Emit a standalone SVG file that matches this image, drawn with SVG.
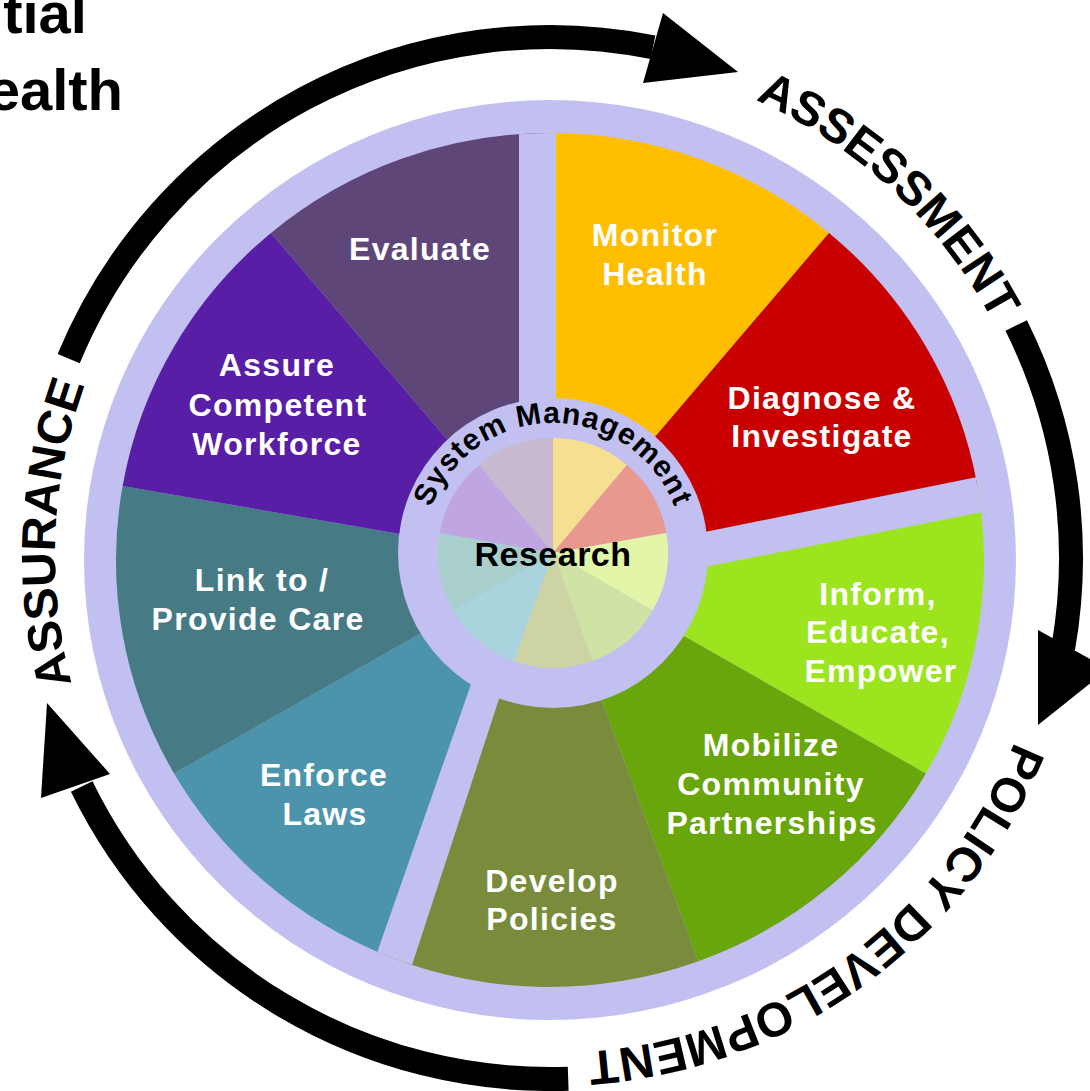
<svg xmlns="http://www.w3.org/2000/svg" width="1090" height="1091" viewBox="0 0 1090 1091">
<defs>
<style>
.lab{font-family:"Liberation Sans",Arial,sans-serif;font-weight:bold;font-size:32px;fill:#fff;text-anchor:middle;letter-spacing:1.3px}
.ring{font-family:"Liberation Sans",Arial,sans-serif;font-weight:bold;font-size:48px;fill:#000}
.title{font-family:"Liberation Sans",Arial,sans-serif;font-weight:bold;font-size:58px;fill:#000;text-anchor:end}
.shaft{fill:none;stroke:#000;stroke-width:24}
.head{fill:#000}
.lav{fill:#c1c0f1}
</style>
<path id="outerPath" d="M553 57 A498 498 0 0 1 553 1053 A498 498 0 0 1 553 57"/>
<path id="hubPath" d="M423 553 A130 130 0 0 1 683 553"/>
<clipPath id="wheelClip"><ellipse cx="550" cy="560" rx="434" ry="427"/></clipPath>
</defs>
<rect width="1090" height="1091" fill="#fff"/>

<g id="title">
<text class="title" x="87" y="33">tial</text>
<text class="title" x="123" y="110">ealth</text>
</g>

<g id="connectors">
<path class="shaft" d="M68.7 358.6 A521 521 0 0 1 653 47.3"/>
<polygon class="head" points="663,13 738,72 643,83"/>
<path class="shaft" d="M1016.2 325.5 A521 521 0 0 1 1063.1 648.5"/>
<polygon class="head" points="1038,630 1038,725 1108,669"/>
<path class="shaft" d="M568.2 1078.7 A521 521 0 0 1 81.7 786.4"/>
<polygon class="head" points="47,703 41,798 110,774"/>
</g>

<g id="phases">
<text id="assessment" class="ring"><textPath href="#outerPath" startOffset="373.7" text-anchor="middle">ASSESSMENT</textPath></text>
<text id="policy-development" class="ring"><textPath href="#outerPath" startOffset="1251.5" text-anchor="middle">POLICY DEVELOPMENT</textPath></text>
<text id="assurance" class="ring"><textPath href="#outerPath" startOffset="2368.4" text-anchor="middle">ASSURANCE</textPath></text>
</g>

<ellipse id="outer-ring" class="lav" cx="550" cy="560" rx="466" ry="460"/>

<g id="evaluate">
<path fill="#5e4778" d="M550 560 L271 232.9 A434 427 0 0 1 550 133 Z"/>
<text class="lab" x="420" y="260">Evaluate</text>
</g>
<g id="monitor-health">
<path fill="#ffbe00" d="M550 560 L550 133 A434 427 0 0 1 829 232.9 Z"/>
<text class="lab" x="655" y="246">Monitor</text>
<text class="lab" x="655" y="285">Health</text>
</g>
<g id="diagnose-investigate">
<path fill="#c80000" d="M550 560 L829 232.9 A434 427 0 0 1 977.4 485.9 Z"/>
<text class="lab" x="822" y="409">Diagnose &amp;</text>
<text class="lab" x="822" y="447">Investigate</text>
</g>
<g id="inform-educate-empower">
<path fill="#9be41e" d="M550 560 L977.4 485.9 A434 427 0 0 1 925.9 773.5 Z"/>
<text class="lab" x="878" y="605">Inform,</text>
<text class="lab" x="878" y="643">Educate,</text>
<text class="lab" x="881" y="682">Empower</text>
</g>
<g id="mobilize-community-partnerships">
<path fill="#68a60c" d="M550 560 L925.9 773.5 A434 427 0 0 1 698.4 961.2 Z"/>
<text class="lab" x="771" y="756">Mobilize</text>
<text class="lab" x="771" y="795">Community</text>
<text class="lab" x="772" y="834">Partnerships</text>
</g>
<g id="develop-policies">
<path fill="#788c3c" d="M550 560 L698.4 961.2 A434 427 0 0 1 387.4 955.9 Z"/>
<text class="lab" x="552" y="892">Develop</text>
<text class="lab" x="552" y="930">Policies</text>
</g>
<g id="enforce-laws">
<path fill="#4b94ac" d="M550 560 L387.4 955.9 A434 427 0 0 1 174.1 773.5 Z"/>
<text class="lab" x="324" y="786">Enforce</text>
<text class="lab" x="325" y="825">Laws</text>
</g>
<g id="link-provide-care">
<path fill="#467b85" d="M550 560 L174.1 773.5 A434 427 0 0 1 122.6 485.9 Z"/>
<text class="lab" x="262" y="591">Link to /</text>
<text class="lab" x="258" y="630">Provide Care</text>
</g>
<g id="assure-workforce">
<path fill="#581ea6" d="M550 560 L122.6 485.9 A434 427 0 0 1 271 232.9 Z"/>
<text class="lab" x="277" y="376">Assure</text>
<text class="lab" x="278" y="416">Competent</text>
<text class="lab" x="277" y="455">Workforce</text>
</g>

<g id="gaps" class="lav" clip-path="url(#wheelClip)">
<rect x="519" y="90" width="37" height="470"/>
<polygon points="690,535 1010,470.3 1010,506.6 690,570"/>
<polygon points="483,650 515,650 400.6,1000 360.5,1000"/>
</g>

<g id="research-hub">
<circle class="lav" cx="553" cy="553" r="155"/>
<path fill="#f5df90" d="M553 553 L553 438 A115 115 0 0 1 626.9 464.9 Z"/>
<path fill="#e99890" d="M553 553 L626.9 464.9 A115 115 0 0 1 666.3 533 Z"/>
<path fill="#e2f5a8" d="M553 553 L666.3 533 A115 115 0 0 1 652.6 610.5 Z"/>
<path fill="#cfe3a4" d="M553 553 L652.6 610.5 A115 115 0 0 1 592.3 661.1 Z"/>
<path fill="#cdd3a2" d="M553 553 L592.3 661.1 A115 115 0 0 1 513.7 661.1 Z"/>
<path fill="#a9d4de" d="M553 553 L513.7 661.1 A115 115 0 0 1 453.4 610.5 Z"/>
<path fill="#a9cfcc" d="M553 553 L453.4 610.5 A115 115 0 0 1 439.7 533 Z"/>
<path fill="#c0a6e0" d="M553 553 L439.7 533 A115 115 0 0 1 479.1 464.9 Z"/>
<path fill="#c7b9cf" d="M553 553 L479.1 464.9 A115 115 0 0 1 553 438 Z"/>
<text font-family="Liberation Sans, Arial, sans-serif" font-weight="bold" font-size="30" letter-spacing="1" fill="#000"><textPath href="#hubPath" startOffset="50%" text-anchor="middle">System Management</textPath></text>
<text x="553" y="566" font-family="Liberation Sans, Arial, sans-serif" font-weight="bold" font-size="34" letter-spacing="0.5" fill="#000" text-anchor="middle">Research</text>
</g>
</svg>
